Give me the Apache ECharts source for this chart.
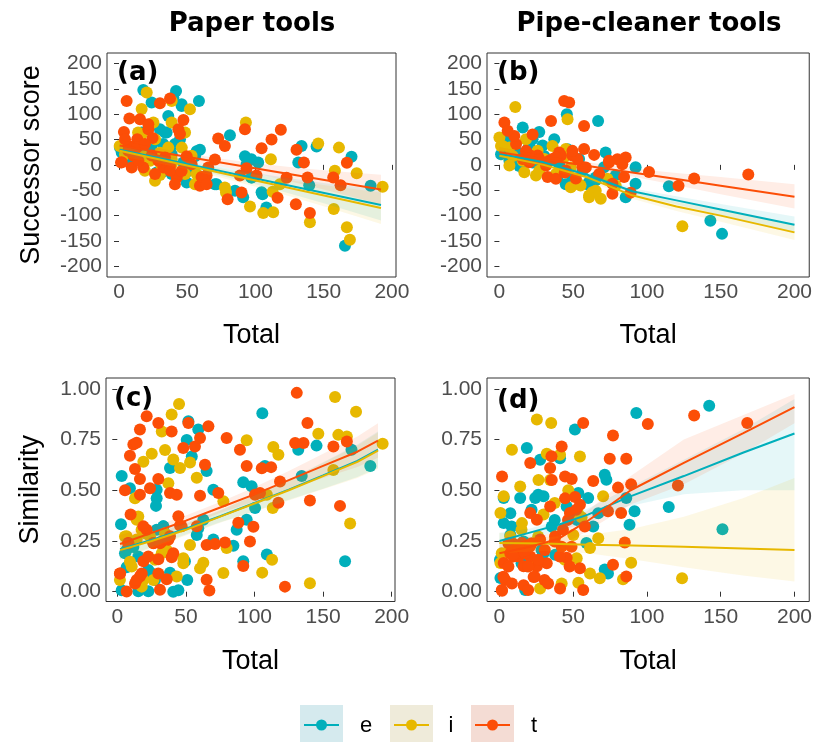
<!DOCTYPE html>
<html><head><meta charset="utf-8">
<script src="https://cdn.jsdelivr.net/npm/echarts@6/dist/echarts.min.js"></script>
<style>html,body{margin:0;padding:0;background:#fff}#c{width:815px;height:742px}</style>
</head><body><div id="c"></div>
<script>
// ---------- data ----------
const groups = ['e', 'i', 't'];
const colors = {e: '#00AFBB', i: '#E7B800', t: '#FC4E07'};
const panelTitles = ['Paper tools', 'Pipe-cleaner tools'];
const panelLabels = ['(a)', '(b)', '(c)', '(d)'];
const xTicks = [0, 50, 100, 150, 200];
const scoreTicks = [-200, -150, -100, -50, 0, 50, 100, 150, 200];
const simTicks = [0, 0.25, 0.5, 0.75, 1];

// Panel (a): Paper tools, Successor score
const aE = [[17.8,147.6],[41.8,145.7],[23.9,122.8],[58.6,126],[45.9,116],[36.1,96.5],[39.8,132.6],[30,70],[34.9,63.6],[44.7,50.6],[23.9,37.4],[17.8,34],[2,24.4],[59.3,30],[55.7,16.9],[52,-2],[49.6,-34.6],[27.6,-15],[81.3,58.5],[92.3,17],[97,11.2],[93.5,1.4],[102,4.6],[97,-24.8],[70.3,-38],[85,-51],[91,-64],[105.2,-58],[108,-84],[133.8,37.4],[131.4,4.6],[144.8,36],[139.4,-40],[170.4,15.8],[184.4,-41],[165.6,-159.4],[0.7,34],[8,24],[25,44],[32.4,41],[38.6,21],[47.1,4.5],[56.9,27],[31.2,-15],[16.6,64],[33.7,64],[45.9,119.5],[71.5,-38],[94.7,8],[104.5,-54],[97.2,-25],[11.7,8],[21.5,27.6],[41,41],[50.8,-12],[28.8,14.5],[4.4,11],[38.6,-18]];
const aI = [[20.3,142.5],[38.6,126],[52,109.6],[44.7,63.6],[48.4,63.6],[25.2,83.5],[16.6,60.4],[0.5,37.4],[46,34],[17.8,16.9],[38.6,11],[56.9,-18],[30,-20],[93,83.5],[77.6,-44.6],[78.4,-54.4],[96,-82],[105.7,-95],[113,-93.5],[111.3,11],[112.6,-53],[117.9,-38],[146,42],[161.2,34],[158.2,-11.8],[174.2,-16.4],[157.4,-87],[139.9,-113],[167,-123],[169.2,-147.6],[193.2,-43.3],[14,64],[26.4,50.6],[30,24],[38.6,1.4],[53.2,18],[22.7,8],[19,-11.7],[38.6,83.5],[16.6,110],[4.4,21],[19,14.5],[31.2,-2],[48.4,-18],[14.2,41],[36.1,34],[55.7,-38],[26.4,-31.4]];
const aT = [[5.6,126],[30,121.4],[37.4,131],[7.6,91.3],[15.4,90],[21.5,70],[3.6,65],[47.2,88.5],[43.5,70],[24.6,53],[13.4,50.6],[7.1,37.4],[10.7,19],[1.5,4.6],[9.3,-5],[32.5,-5],[42.3,-24.7],[37.4,-2],[59.3,-41],[64.2,-21],[49.6,17],[72.7,52],[77.6,37.4],[70.3,10.5],[92.3,70],[104.5,32.8],[111.8,50],[118.6,69],[88.6,-21],[93.5,-6.8],[100.8,-21],[89.8,-54.4],[79.6,-67.6],[116.2,-64.8],[122.8,-25.4],[130.1,30],[135.5,4.6],[138.2,-24.8],[129.6,-77.6],[139.9,-95],[157,-24.8],[162.4,-40],[167,4],[2,5.4],[10.5,18.5],[13,34],[24,18.5],[17.8,-5],[28.8,8],[37.4,-11.7],[60.5,-24],[65.4,-5],[21.5,80],[44.7,61],[4.4,50.6],[6.8,27.6],[19,41],[33.7,14.5],[26.4,-18],[45.9,-12],[14.2,8],[53.2,1.4],[41,-38],[64.2,-38]];

// Panel (b): Pipe-cleaner tools, Successor score
const bE = [[45.7,99.6],[66.9,86.6],[15.8,73.5],[27,65],[37.2,50.6],[1.1,21],[5.6,44],[19.4,31.5],[29.3,38],[20.3,18.4],[9,11.8],[38.3,-20.7],[49.5,-27.3],[54,11.8],[60.8,-33.8],[65.3,-30.5],[72,24.6],[70.9,-4.6],[92.3,-4.6],[92.3,-37.4],[85.6,-63.6],[114.9,-42],[143,-110],[150.9,-136],[78.8,-20.7],[22.5,50.6],[6.8,8],[13.5,-2],[22.5,4.5],[46.2,31],[39.4,-25],[59.7,-38],[4.5,47],[11.3,27.6],[20.3,37.4],[30.4,17.7],[40.5,1.4],[56.3,-11.7],[65.3,-25],[45,-38]];
const bI = [[10.8,114],[46.2,89.8],[0,53.8],[2.3,37.4],[18,50.6],[36,37.4],[6.8,-1.3],[16.9,-14.4],[24.8,-21],[48.4,-43.9],[55,-40.7],[63,-53.8],[68.7,-67],[60.8,-60.4],[78.8,-40.7],[124,-121],[30.4,11.8],[45,31.5],[73.2,-27.3],[6.8,34],[25.9,28],[31.5,5],[44,15],[48.4,-5],[1.1,37.4],[9,17.7],[15.8,8],[27,-11.7],[38.3,-18],[54,-38],[65.3,-51],[60.8,-64]];
const bT = [[43.9,126],[47.3,122.8],[3.4,83.5],[35,86.6],[57.4,76.8],[11.3,41.3],[36,11.8],[41.7,18.4],[49.5,18.4],[57.4,31.5],[64.2,19.7],[31.6,-1.3],[45,-11],[32.7,-24],[74.3,4.6],[80,11.2],[85.6,14.4],[83.3,1.3],[84.5,-24],[76.6,-37],[76.6,-56.7],[89,-54.7],[101.4,-14],[121.4,-41.3],[132,-27],[168.7,-19],[20.3,5],[15.8,11.8],[25.9,18.4],[51.8,-27],[56.3,-4],[38.3,-27.3],[10.1,57],[22.5,60],[40.5,24.6],[53,11.5],[44.3,-15],[33.8,8],[21.4,18],[5.6,67.3],[18,27.6],[27,11.5],[38.3,14.8],[49.5,27.6],[58.6,-5],[67.6,-18],[74.3,8]];

// Panel (c): Paper tools, Similarity
const cE = [[105.7,0.88],[51.8,0.84],[59,0.8],[50.6,0.748],[54.3,0.666],[38.4,0.61],[65.1,0.595],[3.2,0.57],[9.2,0.51],[28.7,0.502],[28.7,0.461],[28.2,0.423],[70,0.502],[91.8,0.54],[97.9,0.52],[107.6,0.62],[131.9,0.7],[145.2,0.72],[170.7,0.7],[184.4,0.62],[134.4,0.57],[100.4,0.412],[94.3,0.355],[87,0.305],[62.7,0.355],[59,0.313],[57.9,0.28],[70,0.257],[84.6,0.227],[109,0.183],[91.8,0.15],[166,0.15],[2.7,0.332],[5.6,0.19],[11.7,0.22],[28.7,0.305],[33.6,0.322],[49.3,0.15],[51,0.058],[38.4,0.094],[25.1,0.09],[3.2,0.007],[15.3,0.002],[44.5,0.007],[22.6,0.002],[6.8,0.12],[6.8,0.206],[15.3,0.173],[22.6,0.107],[33.5,0.322],[40.8,0.0],[27.5,0.058]];
const cI = [[158.7,0.96],[174,0.887],[45,0.925],[39.6,0.873],[32.4,0.79],[25.1,0.68],[19,0.64],[34.8,0.698],[40.8,0.652],[45.7,0.61],[53,0.637],[57.9,0.562],[37.2,0.535],[12.9,0.46],[94.3,0.746],[113.7,0.713],[117.4,0.675],[146.5,0.778],[161.1,0.773],[167.3,0.765],[193.4,0.729],[157.5,0.6],[109,0.478],[113.3,0.413],[77.3,0.446],[169.7,0.336],[14.1,0.355],[17.7,0.305],[6.8,0.273],[23.8,0.273],[34.8,0.288],[14.1,0.257],[53,0.23],[79.7,0.215],[112.8,0.157],[105.6,0.094],[77.3,0.092],[140.4,0.042],[62.7,0.143],[60.3,0.115],[43.3,0.075],[19,0.058],[9.2,0.148],[1.9,0.058],[26.3,0.058],[48.1,0.165],[32.4,0.19],[5.6,0.272],[15.3,0.371],[20.2,0.288],[27.5,0.157],[36,0.206],[48.1,0.14],[10.5,0.124],[17.8,0.025]];
const cT = [[130.8,0.98],[21.4,0.865],[29.9,0.832],[39.6,0.79],[51.8,0.832],[66.4,0.815],[16.5,0.8],[11.7,0.725],[14.1,0.734],[9.2,0.67],[12.9,0.605],[16.5,0.555],[5.6,0.5],[23.8,0.51],[29.9,0.555],[16.5,0.478],[38.4,0.487],[43.3,0.478],[60.3,0.473],[48.1,0.708],[56.6,0.716],[60.3,0.758],[63.9,0.626],[79.7,0.758],[89.4,0.7],[94.3,0.62],[105.3,0.609],[112.1,0.614],[73.6,0.487],[100.4,0.478],[104,0.487],[118.6,0.543],[129.6,0.733],[135.7,0.733],[138.6,0.832],[157.5,0.716],[167.3,0.74],[140.4,0.449],[162.3,0.423],[117.4,0.439],[9.7,0.38],[21.4,0.305],[26.3,0.24],[32.4,0.248],[38.4,0.273],[45.7,0.326],[44.5,0.372],[57.9,0.322],[65.1,0.23],[71.2,0.235],[78.5,0.243],[88.2,0.34],[99.2,0.32],[96.7,0.248],[91.8,0.127],[1.9,0.09],[8,0.24],[19,0.15],[6.8,0.001],[16.5,0.075],[29.9,0.16],[36,0.061],[31.1,0.01],[39.6,0.17],[65.1,0.059],[67.1,0.006],[122.2,0.025],[12.9,0.04],[2,0.09],[14.1,0.058],[17.8,0.09],[26.3,0.239],[31.1,0.239],[37.2,0.256],[40.8,0.19],[46.9,0.322],[29.9,0.09],[8,0.239],[19,0.322],[22.6,0.173]];

// Panel (d): Pipe-cleaner tools, Similarity
const dE = [[92.8,0.881],[142.2,0.917],[51.2,0.799],[18.6,0.708],[27.6,0.65],[41.1,0.658],[71.4,0.576],[72.5,0.552],[14.1,0.462],[24.3,0.462],[29.9,0.47],[45.6,0.42],[53.5,0.487],[60.2,0.462],[67,0.387],[63.6,0.321],[86,0.462],[91.6,0.396],[88.2,0.33],[114.8,0.417],[151.2,0.308],[2.9,0.338],[7.4,0.28],[16.4,0.247],[29.9,0.19],[18.6,0.125],[0.7,0.067],[17.5,0.008],[37.8,0.182],[52.4,0.354],[59,0.24],[71.4,0.11],[73.6,0.09],[35.5,0.321],[7.4,0.387],[2.9,0.462],[8.3,0.321],[26.3,0.478],[21.8,0.404],[37.5,0.354],[28.6,0.206],[15,0.14],[0.4,0.157]];
const dI = [[25.4,0.849],[35.1,0.832],[8.5,0.7],[32.1,0.68],[41.1,0.675],[54.6,0.666],[26.5,0.55],[34.4,0.55],[14.1,0.518],[2.9,0.47],[0.7,0.388],[15.3,0.338],[29.9,0.38],[46.7,0.5],[49,0.375],[55.7,0.367],[70.3,0.47],[67,0.264],[61.4,0.215],[50.1,0.28],[37.8,0.272],[7.4,0.272],[0.7,0.141],[4,0.19],[52.4,0.165],[61.4,0.09],[68.1,0.066],[83.8,0.061],[89.3,0.143],[123.8,0.066],[42.2,0.04],[53.5,0.044],[27.6,0.016],[24.3,0.13],[45.6,0.16],[15,0.305],[26.3,0.272],[37.5,0.437],[53.2,0.387],[1.6,0.19],[44.3,0.157],[21.8,0.14]];
const dT = [[56.8,0.832],[77,0.77],[100.6,0.827],[132,0.869],[168,0.832],[74.8,0.655],[86,0.655],[1.8,0.568],[20.9,0.634],[34.4,0.61],[42.2,0.716],[44.5,0.568],[49,0.555],[35.5,0.551],[63.6,0.546],[80.4,0.513],[89.3,0.529],[121,0.524],[44.5,0.46],[51.3,0.467],[54.6,0.429],[73.6,0.396],[82.5,0.388],[34.4,0.42],[20.9,0.388],[25.4,0.355],[47.8,0.388],[57.9,0.321],[85,0.242],[9.7,0.235],[15.3,0.24],[20.9,0.225],[27.6,0.257],[7.4,0.19],[13,0.174],[20.9,0.174],[32.1,0.14],[42.2,0.222],[45.6,0.167],[48.9,0.222],[54.6,0.116],[77,0.133],[86,0.075],[2.9,0.141],[4,0.058],[1.8,0.005],[8.5,0.04],[16.4,0.032],[23.2,0.073],[30.6,0.058],[41.1,0.016],[56.8,0.008],[16.4,0.125],[25.4,0.125],[37.8,0.272],[35.3,0.668],[6.1,0.239],[12.8,0.223],[9.4,0.173],[17.3,0.19],[21.8,0.239],[26.3,0.157],[19.5,0.124],[6.1,0.124],[2.7,0.074],[24,0.074],[30.8,0.206],[37.5,0.247],[43.1,0.305],[46.5,0.354],[52.1,0.404],[40.9,0.173],[47.6,0.124],[33,0.04],[19.5,0.008],[1.6,0.008]];

// Fitted lines (x positions and fitted values)
const aFitX = [0.5, 192];
const aFitE = [30, -79];
const aFitI = [28, -85];
const aFitT = [38, -48.5];
const aBandX = [0.5, 25, 50, 75, 100, 125, 150, 175, 192];
const aBandEUp = [39.7, 23.3, 8.5, -4.3, -16, -26.3, -35.5, -43.8, -49.4];
const aBandELo = [19.7, 8.3, -5.5, -21.3, -38, -56.3, -75.5, -95.8, -109.4];
const aBandIUp = [38.7, 21.3, 6, -7.3, -19, -29.8, -39.5, -48.3, -54.3];
const aBandILo = [16.7, 5.3, -9, -25.3, -43, -61.8, -81.5, -102.3, -116.3];
const aBandTUp = [48.8, 34.8, 22.5, 12.3, 3, -4.3, -10.5, -15.8, -19.4];
const aBandTLo = [26.8, 18.8, 8.5, -3.7, -17, -32.3, -48.5, -65.8, -77.4];

const bFitX = [0, 30, 60, 90, 120, 150, 200];
const bFitE = [22, 5, -20, -52, -70, -88, -118];
const bFitI = [18, 0, -25, -60, -82, -100, -133];
const bFitT = [25, 11, -2, -15, -28, -41, -63];
const bBandEUp = [30, 11, -15, -46, -62, -77, -102];
const bBandELo = [14, -1, -25, -58, -78, -99, -134];
const bBandIUp = [27, 6, -19, -53, -73, -88, -118];
const bBandILo = [9, -6, -31, -67, -91, -112, -148];
const bBandTUp = [35, 18, 5, -7, -16, -24, -38];
const bBandTLo = [15, 4, -9, -23, -40, -58, -86];

const cFitX = [2, 25, 50, 75, 100, 125, 150, 175, 190];
const cFitE = [0.21, 0.255, 0.31, 0.372, 0.437, 0.503, 0.573, 0.645, 0.70];
const cFitI = [0.205, 0.25, 0.305, 0.37, 0.435, 0.5, 0.57, 0.64, 0.695];
const cFitT = [0.235, 0.29, 0.35, 0.415, 0.48, 0.55, 0.62, 0.69, 0.745];
const cBandEUp = [0.26, 0.29, 0.338, 0.402, 0.477, 0.553, 0.638, 0.725, 0.79];
const cBandELo = [0.16, 0.22, 0.282, 0.342, 0.397, 0.453, 0.508, 0.565, 0.61];
const cBandIUp = [0.255, 0.285, 0.333, 0.4, 0.475, 0.55, 0.635, 0.72, 0.785];
const cBandILo = [0.155, 0.215, 0.277, 0.34, 0.395, 0.45, 0.505, 0.56, 0.605];
const cBandTUp = [0.28, 0.32, 0.375, 0.442, 0.515, 0.595, 0.68, 0.765, 0.83];
const cBandTLo = [0.19, 0.26, 0.325, 0.388, 0.445, 0.505, 0.56, 0.615, 0.66];

const dFitXE = [0, 20, 40, 60, 87, 125, 165, 200];
const dFitE = [0.25, 0.29, 0.33, 0.38, 0.465, 0.57, 0.685, 0.78];
const dBandEUp = [0.29, 0.31, 0.35, 0.41, 0.51, 0.65, 0.80, 0.95];
const dBandELo = [0.21, 0.26, 0.30, 0.34, 0.42, 0.48, 0.50, 0.50];
const dFitXT = [0, 20, 40, 60, 89, 125, 165, 200];
const dFitT = [0.19, 0.22, 0.26, 0.35, 0.50, 0.635, 0.78, 0.91];
const dBandTUp = [0.25, 0.26, 0.30, 0.40, 0.57, 0.75, 0.87, 0.975];
const dBandTLo = [0.13, 0.18, 0.22, 0.30, 0.43, 0.53, 0.68, 0.83];
const dFitXI = [0, 30, 60, 90, 125, 165, 200];
const dFitI = [0.24, 0.237, 0.232, 0.228, 0.222, 0.213, 0.205];
const dBandIUp = [0.29, 0.27, 0.28, 0.31, 0.37, 0.46, 0.56];
const dBandILo = [0.19, 0.20, 0.19, 0.16, 0.12, 0.08, 0.05];

// ---------- layout ----------
const grids = [
  {left: 107, top: 53, width: 289, height: 224},
  {left: 487, top: 53, width: 324, height: 224},
  {left: 106, top: 378, width: 289, height: 223.5},
  {left: 487, top: 378, width: 324, height: 223.5}
];
const xRanges = [[-8.8, 203], [-8.4, 210], [-8.24, 202.4], [-8.4, 210]];
const yRanges = [[-221, 220.5], [-221, 220.5], [-0.0483, 1.0533], [-0.0483, 1.0533]];
const xNameGaps = [45, 45, 47, 47];

const FONT = '"Liberation Sans", Arial, sans-serif';
const chart = echarts.init(document.getElementById('c'), null, {renderer: 'canvas'});

const xAxes = grids.map((g, k) => ({
  type: 'value', gridIndex: k, min: xRanges[k][0], max: xRanges[k][1],
  axisLine: {show: false}, splitLine: {show: false},
  axisTick: {show: true, length: 5, lineStyle: {color: '#333'}, customValues: xTicks},
  axisLabel: {customValues: xTicks, color: '#4D4D4D', fontSize: 21, fontFamily: FONT, margin: 5},
  name: 'Total', nameLocation: 'middle', nameGap: xNameGaps[k],
  nameTextStyle: {fontSize: 27, color: '#000', fontFamily: FONT}
}));
const yAxes = grids.map((g, k) => {
  const ticks = k < 2 ? scoreTicks : simTicks;
  return {
    type: 'value', gridIndex: k, min: yRanges[k][0], max: yRanges[k][1],
    axisLine: {show: false}, splitLine: {show: false},
    axisTick: {show: true, length: 5, lineStyle: {color: '#333'}, customValues: ticks},
    axisLabel: {customValues: ticks, color: '#4D4D4D', fontSize: 21, fontFamily: FONT, margin: 5,
      formatter: v => (k < 2 ? String(Math.round(v)) : Number(v).toFixed(2))},
    name: (k % 2 === 0) ? (k === 0 ? 'Successor score' : 'Similarity') : '',
    nameLocation: 'middle', nameGap: 62,
    nameTextStyle: {fontSize: 27, color: '#000', fontFamily: FONT}
  };
});

const pointSets = [
  {e: aE, i: aI, t: aT}, {e: bE, i: bI, t: bT}, {e: cE, i: cI, t: cT}, {e: dE, i: dI, t: dT}
];
const fits = [
  {e: [aFitX, aFitE], i: [aFitX, aFitI], t: [aFitX, aFitT]},
  {e: [bFitX, bFitE], i: [bFitX, bFitI], t: [bFitX, bFitT]},
  {e: [cFitX, cFitE], i: [cFitX, cFitI], t: [cFitX, cFitT]},
  {e: [dFitXE, dFitE], i: [dFitXI, dFitI], t: [dFitXT, dFitT]}
];
const bands = [
  {e: [aBandX, aBandEUp, aBandELo], i: [aBandX, aBandIUp, aBandILo], t: [aBandX, aBandTUp, aBandTLo]},
  {e: [bFitX, bBandEUp, bBandELo], i: [bFitX, bBandIUp, bBandILo], t: [bFitX, bBandTUp, bBandTLo]},
  {e: [cFitX, cBandEUp, cBandELo], i: [cFitX, cBandIUp, cBandILo], t: [cFitX, cBandTUp, cBandTLo]},
  {e: [dFitXE, dBandEUp, dBandELo], i: [dFitXI, dBandIUp, dBandILo], t: [dFitXT, dBandTUp, dBandTLo]}
];

const series = [];
for (let k = 0; k < 4; k++) {
  groups.forEach(g => {
    series.push({type: 'scatter', name: g, xAxisIndex: k, yAxisIndex: k, data: pointSets[k][g],
      symbolSize: 12, itemStyle: {color: colors[g], opacity: 1}, z: 2, silent: true});
  });
  groups.forEach(g => {
    const [bx, up, lo] = bands[k][g];
    series.push({type: 'custom', xAxisIndex: k, yAxisIndex: k, coordinateSystem: 'cartesian2d',
      data: [[bx[0], lo[0]]], silent: true, z: 3,
      renderItem: (params, api) => {
        const pts = [];
        for (let j = 0; j < bx.length; j++) pts.push(api.coord([bx[j], up[j]]));
        for (let j = bx.length - 1; j >= 0; j--) pts.push(api.coord([bx[j], lo[j]]));
        return {type: 'polygon', shape: {points: pts}, style: {fill: colors[g], opacity: 0.1}};
      }});
  });
  groups.forEach(g => {
    const [fx, fy] = fits[k][g];
    series.push({type: 'line', xAxisIndex: k, yAxisIndex: k, data: fx.map((x, j) => [x, fy[j]]),
      showSymbol: false, symbol: 'none', lineStyle: {color: colors[g], width: 2}, z: 4, silent: true,
      animation: false});
  });
}

const graphics = [];
// column titles
[[252, panelTitles[0]], [649, panelTitles[1]]].forEach(([x, t]) => {
  graphics.push({type: 'text', style: {text: t, x: x, y: 24, align: 'center', verticalAlign: 'middle',
    fill: '#000', font: 'bold 26px "DejaVu Sans", Verdana, sans-serif'}});
});
// panel labels
[[117, 73], [497, 73], [114, 399], [497, 401]].forEach(([x, y], k) => {
  graphics.push({type: 'text', z: 10, style: {text: panelLabels[k], x: x, y: y, align: 'left', verticalAlign: 'middle',
    fill: '#000', font: 'bold 26px "DejaVu Sans", Verdana, sans-serif'}});
});
// legend
const legendBg = {e: '#D5EAEE', i: '#EFEBDA', t: '#F4DCD4'};
const legendX = {e: 300, i: 390, t: 471};
const legendTextX = {e: 366, i: 451, t: 534};
groups.forEach(g => {
  const x0 = legendX[g];
  graphics.push({type: 'rect', shape: {x: x0, y: 705, width: 43, height: 38}, style: {fill: legendBg[g]}});
  graphics.push({type: 'line', shape: {x1: x0 + 4, y1: 725, x2: x0 + 39, y2: 725}, style: {stroke: colors[g], lineWidth: 2}});
  graphics.push({type: 'circle', shape: {cx: x0 + 21.5, cy: 725, r: 5.5}, style: {fill: colors[g]}});
  graphics.push({type: 'text', style: {text: g, x: legendTextX[g], y: 726, align: 'center', verticalAlign: 'middle',
    fill: '#000', font: '22px ' + FONT}});
});

chart.setOption({
  animation: false,
  backgroundColor: '#fff',
  grid: grids.map(g => Object.assign({show: true, borderColor: '#333', borderWidth: 1, backgroundColor: 'transparent'}, g)),
  xAxis: xAxes,
  yAxis: yAxes,
  series: series,
  graphic: graphics
});
</script>
</body></html>
